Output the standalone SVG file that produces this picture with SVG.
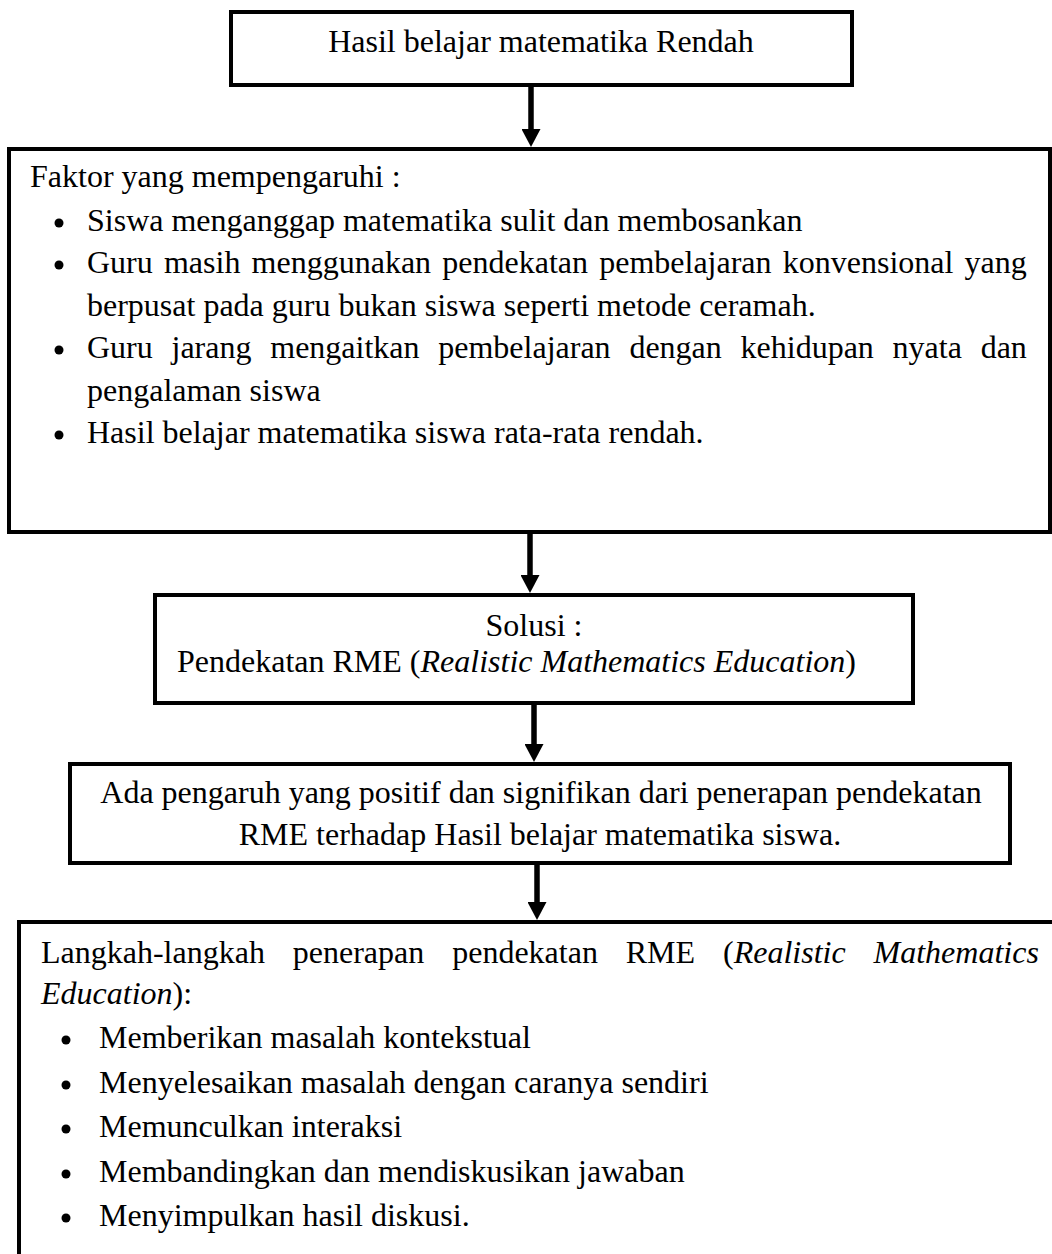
<svg xmlns="http://www.w3.org/2000/svg" width="1052" height="1254" viewBox="0 0 1052 1254">
<style>
  .box { fill: #ffffff; stroke: #000000; stroke-width: 4; }
  .t { font-family: "Liberation Serif", "Times New Roman", serif; font-size: 32px; fill: #000000; }
  .c { text-anchor: middle; }
  .i { font-style: italic; }
  .dot { fill: #000000; }
  .conn { stroke: #000000; stroke-width: 5.5; fill: none; }
</style>
<defs>
  <marker id="head" markerUnits="userSpaceOnUse" markerWidth="18" markerHeight="19" viewBox="0 0 18 19" refX="8" refY="9.5" orient="auto">
    <path d="M0,0 L18,9.5 L0,19 z" fill="#000000"/>
  </marker>
</defs>
<rect width="1052" height="1254" fill="#ffffff"/>

<g id="connectors">
  <line class="conn" x1="531" y1="87" x2="531" y2="137" marker-end="url(#head)"/>
  <line class="conn" x1="530" y1="534" x2="530" y2="583" marker-end="url(#head)"/>
  <line class="conn" x1="534" y1="705" x2="534" y2="752" marker-end="url(#head)"/>
  <line class="conn" x1="537" y1="865" x2="537" y2="910" marker-end="url(#head)"/>
</g>

<g id="node-hasil-rendah">
  <rect class="box" x="231" y="12" width="621" height="73"/>
  <text class="t c" x="541" y="52">Hasil belajar matematika Rendah</text>
</g>

<g id="node-faktor">
  <rect class="box" x="9" y="149" width="1041" height="383"/>
  <text class="t" x="30" y="187">Faktor yang mempengaruhi :</text>
  <circle class="dot" cx="59" cy="223" r="4.5"/>
  <text class="t" x="87" y="231">Siswa menganggap matematika sulit dan membosankan</text>
  <circle class="dot" cx="59" cy="265" r="4.5"/>
  <text class="t" x="87" y="273" word-spacing="3.2">Guru masih menggunakan pendekatan pembelajaran konvensional yang</text>
  <text class="t" x="87" y="316">berpusat pada guru bukan siswa seperti metode ceramah.</text>
  <circle class="dot" cx="59" cy="350" r="4.5"/>
  <text class="t" x="87" y="358" word-spacing="10.76">Guru jarang mengaitkan pembelajaran dengan kehidupan nyata dan</text>
  <text class="t" x="87" y="401">pengalaman siswa</text>
  <circle class="dot" cx="59" cy="435" r="4.5"/>
  <text class="t" x="87" y="443">Hasil belajar matematika siswa rata-rata rendah.</text>
</g>

<g id="node-solusi">
  <rect class="box" x="155" y="595" width="758" height="108"/>
  <text class="t c" x="534" y="636">Solusi :</text>
  <text class="t" x="177" y="672">Pendekatan RME (<tspan class="i">Realistic Mathematics Education</tspan>)</text>
</g>

<g id="node-pengaruh">
  <rect class="box" x="70" y="764" width="940" height="99"/>
  <text class="t c" x="541" y="803">Ada pengaruh yang positif dan signifikan dari penerapan pendekatan</text>
  <text class="t c" x="540" y="845">RME terhadap Hasil belajar matematika siswa.</text>
</g>

<g id="node-langkah">
  <rect class="box" x="19" y="922" width="1060" height="400"/>
  <text class="t" x="41" y="963" word-spacing="19.9">Langkah-langkah penerapan pendekatan RME (<tspan class="i">Realistic Mathematics</tspan></text>
  <text class="t" x="41" y="1004"><tspan class="i">Education</tspan>):</text>
  <circle class="dot" cx="66" cy="1040" r="4.5"/>
  <text class="t" x="99" y="1048">Memberikan masalah kontekstual</text>
  <circle class="dot" cx="66" cy="1085" r="4.5"/>
  <text class="t" x="99" y="1093">Menyelesaikan masalah dengan caranya sendiri</text>
  <circle class="dot" cx="66" cy="1129" r="4.5"/>
  <text class="t" x="99" y="1137">Memunculkan interaksi</text>
  <circle class="dot" cx="66" cy="1174" r="4.5"/>
  <text class="t" x="99" y="1182">Membandingkan dan mendiskusikan jawaban</text>
  <circle class="dot" cx="66" cy="1218" r="4.5"/>
  <text class="t" x="99" y="1226">Menyimpulkan hasil diskusi.</text>
</g>
</svg>
